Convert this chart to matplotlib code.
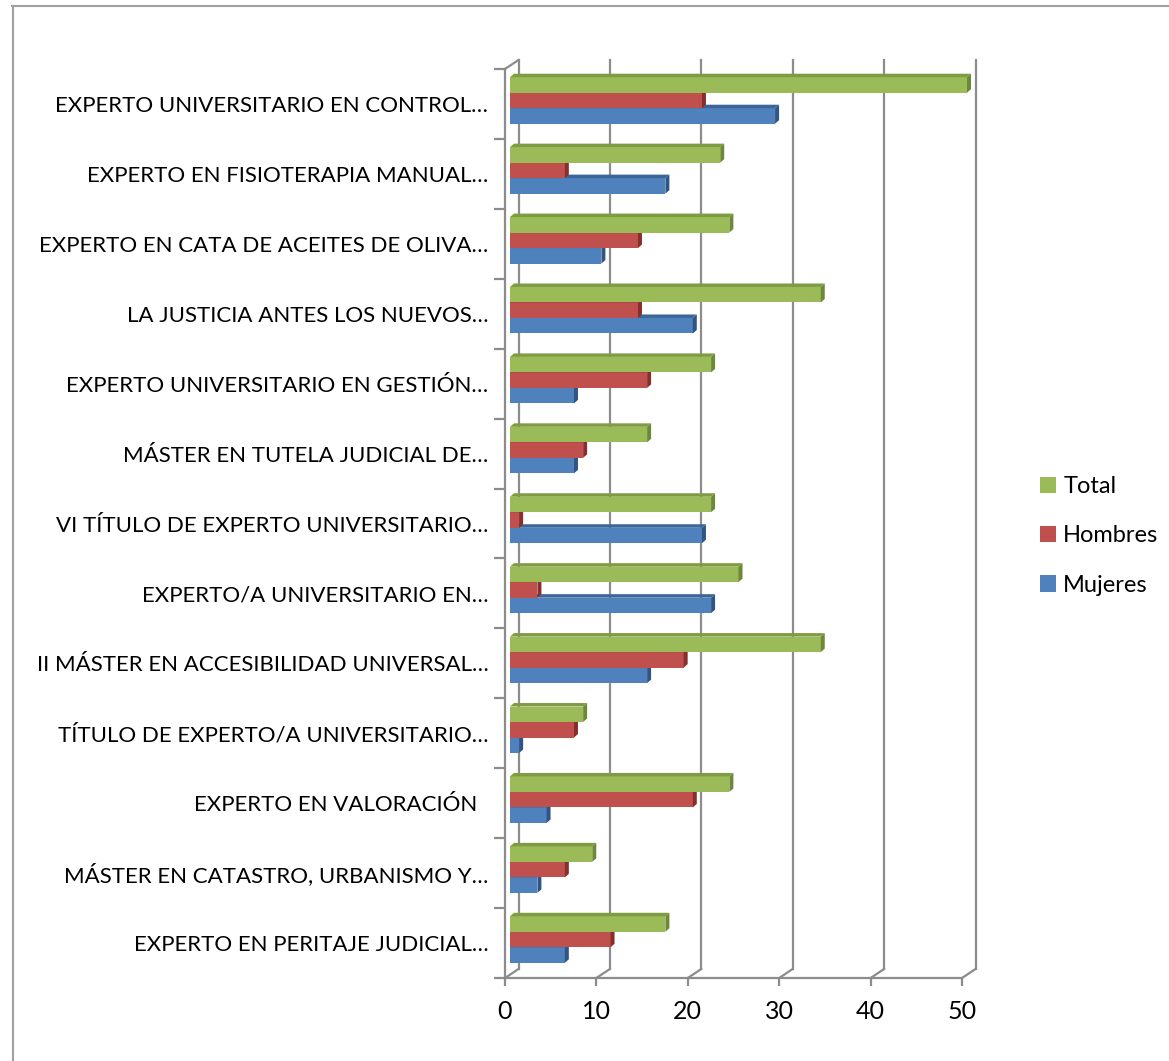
import numpy as np
import matplotlib
matplotlib.use("Agg")
import matplotlib.pyplot as plt
from matplotlib.patches import Polygon, Patch
from matplotlib.lines import Line2D

plt.rcParams['font.family'] = ['Lato', 'DejaVu Sans']

# datos (de arriba hacia abajo)
cursos = [
    "EXPERTO UNIVERSITARIO EN CONTROL…",
    "EXPERTO EN FISIOTERAPIA MANUAL…",
    "EXPERTO EN CATA DE ACEITES DE OLIVA…",
    "LA JUSTICIA ANTES LOS NUEVOS…",
    "EXPERTO UNIVERSITARIO EN GESTIÓN…",
    "MÁSTER EN TUTELA JUDICIAL DE…",
    "VI TÍTULO DE EXPERTO UNIVERSITARIO…",
    "EXPERTO/A UNIVERSITARIO EN…",
    "II MÁSTER EN ACCESIBILIDAD UNIVERSAL…",
    "TÍTULO DE EXPERTO/A UNIVERSITARIO…",
    "EXPERTO EN VALORACIÓN  ",
    "MÁSTER EN CATASTRO, URBANISMO Y…",
    "EXPERTO EN PERITAJE JUDICIAL…",
]
mujeres = [29, 17, 10, 20, 7, 7, 21, 22, 15, 1, 4, 3, 6]
hombres = [21, 6, 14, 14, 15, 8, 1, 3, 19, 7, 20, 6, 11]
total = [50, 23, 24, 34, 22, 15, 22, 25, 34, 8, 24, 9, 17]
xticks = [0, 10, 20, 30, 40, 50]

W, H = 1169, 1061
fig = plt.figure(figsize=(W / 100, H / 100), dpi=100)
ax = fig.add_axes([505 / W, 83 / H, 457 / W, 909 / H])

n = len(cursos)
pos = np.arange(n)[::-1]
ax.set_xlim(0, 50)
ax.set_ylim(-0.5, n - 0.5)

# escala en pixeles
sx = 457 / 50
sy = 909 / n
DX, DY = 13.5 / sx, 9 / sy        # profundidad de las paredes
BX, BY = 5 / sx, 3.5 / sy         # desplazamiento de las barras
dx, dy = 4 / sx, 3.5 / sy         # grosor 3D de cada barra
h = 15.5 / sy

grid_c = '#8c8c8c'
ybot, ytop = -0.5, n - 0.5
for t in xticks:
    ax.plot([t + DX, t + DX], [ybot + DY, ytop + DY], color=grid_c, lw=1.6, zorder=1, clip_on=False)
    ax.plot([t, t + DX], [ybot, ybot + DY], color=grid_c, lw=1.6, zorder=1, clip_on=False)
ax.plot([0, DX], [ytop, ytop + DY], color=grid_c, lw=1.6, zorder=1, clip_on=False)

series = [
    ("Mujeres", mujeres, -h, '#4F81BD', '#3B6699', '#2F5587'),
    ("Hombres", hombres, 0, '#C0504D', '#9E3B38', '#8A2E2B'),
    ("Total", total, h, '#9BBB59', '#7F9C43', '#6B8A35'),
]
for name, vals, off, c, ctop, cside in series:
    yy = pos + off + BY
    bars = ax.barh(yy, vals, height=h, left=BX, color=c, zorder=3)
    for b in bars:
        b.set_clip_on(False)
    for y0, v in zip(yy, vals):
        x1 = BX + v
        top = y0 + h / 2
        bot = y0 - h / 2
        ax.add_patch(Polygon([(BX, top), (x1, top), (x1 + dx, top + dy), (BX + dx, top + dy)],
                             closed=True, facecolor=ctop, edgecolor='none', zorder=3, clip_on=False))
        ax.add_patch(Polygon([(x1, bot), (x1, top), (x1 + dx, top + dy), (x1 + dx, bot + dy)],
                             closed=True, facecolor=cside, edgecolor='none', zorder=3, clip_on=False))

for s in ['top', 'right']:
    ax.spines[s].set_visible(False)
for s in ['left', 'bottom']:
    ax.spines[s].set_color(grid_c)
    ax.spines[s].set_linewidth(1.6)

ax.set_xticks(xticks)
ax.set_xticklabels([str(t) for t in xticks], fontsize=18)
ax.tick_params(axis='x', direction='out', length=6, width=1.6, color=grid_c, pad=10)
ax.set_yticks(pos)
ax.set_yticklabels(cursos, fontsize=16)
ax.tick_params(axis='y', which='major', length=0, pad=12)
ax.set_yticks(np.arange(-0.5, n, 1), minor=True)
ax.tick_params(axis='y', which='minor', direction='out', length=8, width=1.6, color=grid_c)
ax.set_facecolor('none')

handles = [Patch(facecolor=c, label=name) for name, vals, off, c, ctop, cside in series[::-1]]
fig.legend(handles=handles, loc='center left', bbox_to_anchor=(1040 / W, 1 - 536 / H),
           frameon=False, fontsize=17, handlelength=0.68, handleheight=0.68,
           handletextpad=0.3, labelspacing=1.2, borderpad=0, borderaxespad=0)

fig.add_artist(Line2D([12.5 / W, 12.5 / W], [0, 1 - 6 / H], color='#a0a0a0', lw=1.5))
fig.add_artist(Line2D([12 / W, 1], [1 - 6 / H, 1 - 6 / H], color='#a0a0a0', lw=1.5))

fig.savefig('out.png', dpi=100)
